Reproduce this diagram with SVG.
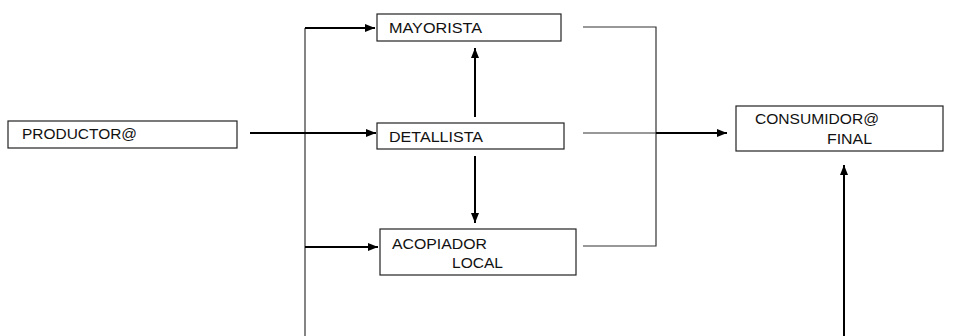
<svg xmlns="http://www.w3.org/2000/svg" width="977" height="336" viewBox="0 0 977 336">
<style>
.box{fill:#fff;stroke:#222;stroke-width:1.2}
.t{font-family:"Liberation Sans",Arial,sans-serif;font-size:14.5px;fill:#111}
.thin{fill:none;stroke:#333;stroke-width:1.2}
.thick{fill:none;stroke:#000;stroke-width:2}
</style>
<defs>
<marker id="ah" viewBox="0 0 10 8" refX="10" refY="4" markerWidth="10" markerHeight="8" markerUnits="userSpaceOnUse" orient="auto">
<path d="M0,0 L10,4 L0,8 Z" fill="#000"/>
</marker>
</defs>
<rect width="977" height="336" fill="#fff"/>
<g id="connectors">
<path class="thin" d="M305,336 V28"/>
<path class="thick" d="M305,28 H375" marker-end="url(#ah)"/>
<path class="thick" d="M250,133 H376" marker-end="url(#ah)"/>
<path class="thick" d="M305,247 H378" marker-end="url(#ah)"/>
<path class="thick" d="M475,117 V48" marker-end="url(#ah)"/>
<path class="thick" d="M475,156 V223" marker-end="url(#ah)"/>
<path class="thin" d="M583,27 H656 V246 H583"/>
<path class="thin" d="M583,133 H656"/>
<path class="thick" d="M656,133 H727" marker-end="url(#ah)"/>
<path class="thick" d="M844,336 V165" marker-end="url(#ah)"/>
</g>
<g id="productor">
<rect class="box" x="8" y="121" width="229" height="27"/>
<text class="t" x="22" y="139" textLength="115" lengthAdjust="spacingAndGlyphs">PRODUCTOR@</text>
</g>
<g id="mayorista">
<rect class="box" x="377" y="14" width="184" height="27"/>
<text class="t" x="389" y="33" textLength="93" lengthAdjust="spacingAndGlyphs">MAYORISTA</text>
</g>
<g id="detallista">
<rect class="box" x="377" y="123" width="187" height="26"/>
<text class="t" x="389" y="142" textLength="94" lengthAdjust="spacingAndGlyphs">DETALLISTA</text>
</g>
<g id="acopiador">
<rect class="box" x="380" y="229" width="196" height="46"/>
<text class="t" x="392" y="249" textLength="95" lengthAdjust="spacingAndGlyphs">ACOPIADOR</text>
<text class="t" x="452" y="268" textLength="51" lengthAdjust="spacingAndGlyphs">LOCAL</text>
</g>
<g id="consumidor">
<rect class="box" x="736" y="106" width="207" height="45"/>
<text class="t" x="755" y="124" textLength="124" lengthAdjust="spacingAndGlyphs">CONSUMIDOR@</text>
<text class="t" x="827" y="144" textLength="45" lengthAdjust="spacingAndGlyphs">FINAL</text>
</g>
</svg>
